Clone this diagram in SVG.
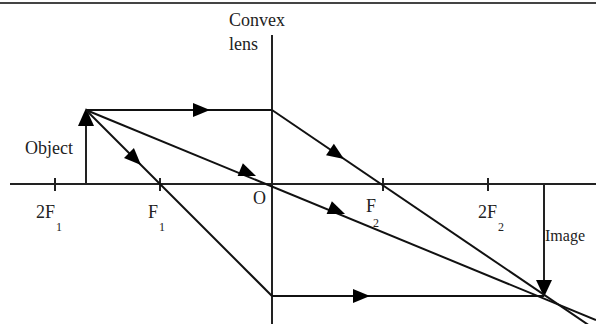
<svg xmlns="http://www.w3.org/2000/svg" width="596" height="324" viewBox="0 0 596 324">
<defs>
<style>
.ln{stroke:#222;stroke-width:2;fill:none}
.rl{stroke:#111;stroke-width:2;fill:none}
.tk{stroke:#222;stroke-width:2}
.ah{fill:#000}
</style>
<path id="arr" d="M0,0 L-17,-7 L-17,7 Z" class="ah"/>
</defs>
<rect width="596" height="324" fill="#fff"/>
<line x1="0" y1="3" x2="596" y2="3" stroke="#444" stroke-width="2"/>
<g id="axis">
<line class="ln" x1="10" y1="184" x2="596" y2="184"/>
</g>
<g font-family="'Liberation Serif', 'DejaVu Serif', serif" fill="#222" font-size="18">
<g id="lens">
<line class="ln" x1="272" y1="35" x2="272" y2="324"/>
<text x="229" y="26">Convex</text>
<text x="229" y="50">lens</text>
</g>
<g id="object">
<line class="ln" x1="86" y1="184" x2="86" y2="122"/>
<path d="M86,108 L78,126 L94,126 Z" class="ah"/>
<text x="25" y="154">Object</text>
</g>
<g id="image">
<line class="ln" x1="544" y1="184" x2="544" y2="282"/>
<path d="M544,297 L536,280 L552,280 Z" class="ah"/>
<text x="545" y="241" font-size="16">Image</text>
</g>
<g id="points">
<line class="tk" x1="55" y1="178" x2="55" y2="191"/>
<text x="36" y="218">2F</text><text font-size="12" x="56" y="231">1</text>
<line class="tk" x1="160" y1="178" x2="160" y2="191"/>
<text x="148" y="218">F</text><text font-size="12" x="159" y="231">1</text>
<text x="253" y="204">O</text>
<line class="tk" x1="383" y1="178" x2="383" y2="191"/>
<text x="366" y="212">F</text><text font-size="12" x="373" y="227">2</text>
<line class="tk" x1="488" y1="178" x2="488" y2="191"/>
<text x="478" y="218">2F</text><text font-size="12" x="498" y="231">2</text>
</g>
</g>
<g id="connectors">
<line class="rl" x1="86" y1="110" x2="272" y2="110"/>
<line class="rl" x1="272" y1="110" x2="590" y2="326"/>
<line class="rl" x1="86" y1="110" x2="596" y2="320"/>
<line class="rl" x1="86" y1="110" x2="272" y2="296"/>
<line class="rl" x1="272" y1="296" x2="544" y2="296"/>
<use href="#arr" transform="translate(210,110)"/>
<use href="#arr" transform="translate(344,159) rotate(34.2)"/>
<use href="#arr" transform="translate(256,176) rotate(22)"/>
<use href="#arr" transform="translate(345,214) rotate(22)"/>
<use href="#arr" transform="translate(141,165) rotate(45)"/>
<use href="#arr" transform="translate(370,296)"/>
</g>
</svg>
